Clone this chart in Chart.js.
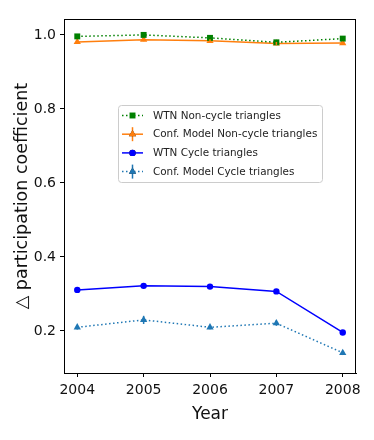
<!DOCTYPE html>
<html>
<head>
<meta charset="utf-8">
<script src="https://cdn.jsdelivr.net/npm/chart.js@4"></script>
<style>
  html, body { margin: 0; padding: 0; background: #fff; }
  #wrap { width: 374px; height: 440px; position: relative; }
</style>
</head>
<body>
<div id="wrap"><canvas id="c" width="374" height="440"></canvas></div>
<script>
const years = [2004, 2005, 2006, 2007, 2008];
const yTicks = [0.2, 0.4, 0.6, 0.8, 1.0];
const wtnNonCycle = [0.996, 1.000, 0.992, 0.980, 0.990];
const confNonCycle = [0.981, 0.987, 0.984, 0.977, 0.978];
const confNonCycleErr = [0.004, 0.004, 0.004, 0.004, 0.004];
const wtnCycle = [0.311, 0.322, 0.320, 0.307, 0.196];
const confCycle = [0.210, 0.230, 0.210, 0.221, 0.141];
const confCycleErr = [0.006, 0.011, 0.005, 0.007, 0.006];
const seriesLabels = ['WTN Non-cycle triangles', 'Conf. Model Non-cycle triangles', 'WTN Cycle triangles', 'Conf. Model Cycle triangles'];
const xTitle = 'Year';
const yTitle = '\u25B3 participation coefficient';

const FONT = '"DejaVu Sans", sans-serif';
const pts = arr => years.map((x, i) => ({x: x, y: arr[i]}));

const datasets = [
  {label: seriesLabels[0], data: pts(wtnNonCycle), borderColor: '#008000', backgroundColor: '#008000',
   borderWidth: 1.5, borderDash: [1.5, 2.5], pointStyle: 'rect', pointRadius: 4.2, pointBorderWidth: 0},
  {label: seriesLabels[1], data: pts(confNonCycle), borderColor: '#ff7f0e', backgroundColor: '#ff7f0e',
   borderWidth: 1.5, pointStyle: 'triangle', pointRadius: 4.2, pointBorderWidth: 0, errors: confNonCycleErr},
  {label: seriesLabels[2], data: pts(wtnCycle), borderColor: '#0000ff', backgroundColor: '#0000ff',
   borderWidth: 1.5, pointStyle: 'circle', pointRadius: 3.2, pointBorderWidth: 0},
  {label: seriesLabels[3], data: pts(confCycle), borderColor: '#1f77b4', backgroundColor: '#1f77b4',
   borderWidth: 1.5, borderDash: [1.5, 2.5], pointStyle: 'triangle', pointRadius: 4.2, pointBorderWidth: 0, errors: confCycleErr}
];

const errorBars = {
  id: 'errorBars',
  afterDatasetsDraw(chart) {
    const ctx = chart.ctx, ys = chart.scales.y, xs = chart.scales.x;
    chart.data.datasets.forEach(ds => {
      if (!ds.errors) return;
      ctx.save();
      ctx.strokeStyle = ds.borderColor;
      ctx.lineWidth = 1.5;
      ds.data.forEach((p, i) => {
        const x = xs.getPixelForValue(p.x);
        ctx.beginPath();
        ctx.moveTo(x, ys.getPixelForValue(p.y - ds.errors[i]));
        ctx.lineTo(x, ys.getPixelForValue(p.y + ds.errors[i]));
        ctx.stroke();
      });
      ctx.restore();
    });
  }
};

const frame = {
  id: 'frame',
  afterDraw(chart) {
    const a = chart.chartArea, ctx = chart.ctx;
    ctx.save();
    ctx.strokeStyle = '#000';
    ctx.lineWidth = 1;
    ctx.strokeRect(Math.round(a.left) + 0.5, Math.round(a.top) + 0.5, Math.round(a.right - a.left) - 1, Math.round(a.bottom - a.top));
    ctx.restore();
  }
};

const legendBox = {
  id: 'legendBox',
  afterDraw(chart) {
    const ctx = chart.ctx;
    const bx = 118, by = 105, bw = 204, bh = 77;
    ctx.save();
    ctx.beginPath();
    ctx.roundRect(bx + 0.5, by + 0.5, bw, bh, 3);
    ctx.fillStyle = 'rgba(255,255,255,0.85)';
    ctx.fill();
    ctx.strokeStyle = '#cccccc';
    ctx.lineWidth = 1;
    ctx.stroke();
    chart.data.datasets.forEach((ds, i) => {
      const cy = 115.5 + i * 18.7;
      const x0 = 122, x1 = 143, xm = (x0 + x1) / 2;
      ctx.strokeStyle = ds.borderColor;
      ctx.lineWidth = 1.5;
      ctx.setLineDash(ds.borderDash || []);
      ctx.beginPath();
      ctx.moveTo(x0, cy);
      ctx.lineTo(x1, cy);
      ctx.stroke();
      ctx.setLineDash([]);
      if (ds.errors) {
        ctx.beginPath();
        ctx.moveTo(xm, cy - 7);
        ctx.lineTo(xm, cy + 7);
        ctx.stroke();
      }
      Chart.helpers.drawPoint(ctx, {pointStyle: ds.pointStyle, radius: ds.pointRadius, borderWidth: 0}, xm, cy);
      ctx.fillStyle = ds.backgroundColor;
      ctx.fill();
      ctx.fillStyle = '#222';
      ctx.font = '10.4px ' + FONT;
      ctx.textBaseline = 'middle';
      ctx.textAlign = 'left';
      ctx.fillText(ds.label, 153, cy + 0.5);
    });
    ctx.restore();
  }
};

new Chart(document.getElementById('c'), {
  type: 'line',
  data: {datasets: datasets},
  plugins: [errorBars, frame, legendBox],
  options: {
    responsive: false,
    animation: false,
    devicePixelRatio: 1,
    layout: {padding: {left: 8, right: 18, top: 19, bottom: 10}},
    plugins: {legend: {display: false}, tooltip: {enabled: false}},
    scales: {
      x: {
        type: 'linear', min: 2003.8, max: 2008.2,
        afterBuildTicks: s => { s.ticks = years.map(v => ({value: v})); },
        afterFit: s => { s.height = 57; },
        grid: {drawOnChartArea: false, drawTicks: true, tickLength: 4, color: '#000'},
        border: {display: true, color: '#000', width: 1},
        ticks: {color: '#111', padding: 5, maxRotation: 0, autoSkip: false,
                font: {family: FONT, size: 14}, callback: v => String(v)},
        title: {display: true, text: xTitle, color: '#111', font: {family: FONT, size: 17}, padding: {top: 0, bottom: 5}}
      },
      y: {
        type: 'linear', min: 0.0865, max: 1.043,
        afterBuildTicks: s => { s.ticks = yTicks.map(v => ({value: v})); },
        afterFit: s => { s.width = 56; },
        grid: {drawOnChartArea: false, drawTicks: true, tickLength: 4, color: '#000'},
        border: {display: true, color: '#000', width: 1},
        ticks: {color: '#111', padding: 4, font: {family: FONT, size: 14}, callback: v => v.toFixed(1)},
        title: {display: true, text: yTitle, color: '#111', font: {family: FONT, size: 17.5}, padding: {top: 4, bottom: 0}}
      }
    }
  }
});
</script>
</body>
</html>
